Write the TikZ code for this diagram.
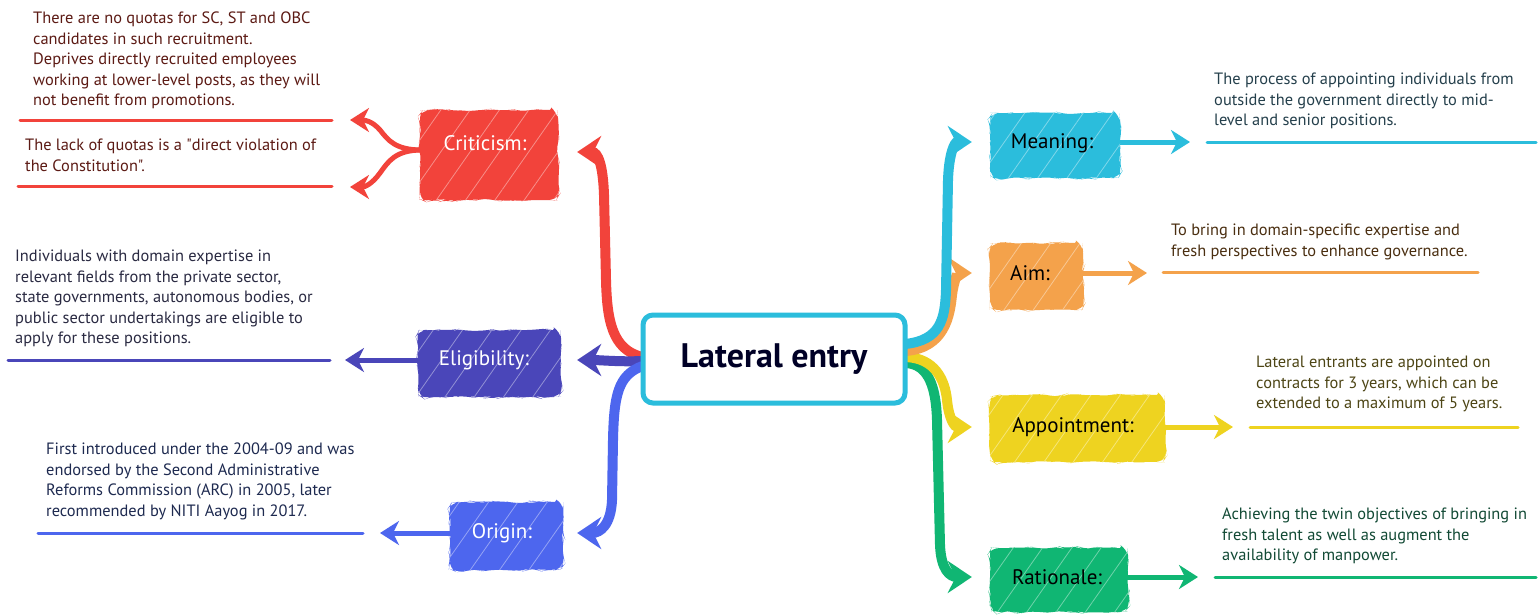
\documentclass[tikz,border=0pt]{standalone}
\usepackage{fontspec}
\setmainfont{PT Sans}[Ligatures=TeXOff]
\usetikzlibrary{arrows.meta,decorations.pathmorphing,patterns.meta,calc}
\definecolor{cRed}{HTML}{F2433B}
\definecolor{cInd}{HTML}{4A46B9}
\definecolor{cBlu}{HTML}{4D66EE}
\definecolor{cCya}{HTML}{2BBDDC}
\definecolor{cOra}{HTML}{F4A24B}
\definecolor{cYel}{HTML}{EED320}
\definecolor{cGrn}{HTML}{10B673}
\definecolor{tRed}{HTML}{5C1A14}
\definecolor{tInd}{HTML}{2A2A42}
\definecolor{tBlu}{HTML}{1E2A50}
\definecolor{tCya}{HTML}{25404C}
\definecolor{tOra}{HTML}{4A2E10}
\definecolor{tYel}{HTML}{4D4515}
\definecolor{tGrn}{HTML}{124A35}
\pgfdeclarelayer{bg}
\pgfsetlayers{bg,main}
\begin{document}
\begin{tikzpicture}[x=1pt,y=-1pt,
  catbox/.style={rectangle, rounded corners=8pt, inner sep=0pt, fill=#1,
    decorate, decoration={random steps,segment length=6pt,amplitude=1.2pt},
    postaction={pattern={Lines[angle=55,distance=24pt,line width=0.8pt]}, pattern color=white!40!#1}},
  catlabel/.style={inner sep=0pt, font=\fontsize{21}{24}\selectfont, text=#1},
  body/.style={anchor=north west, inner sep=0pt, align=left, font=\fontsize{16.4}{20.5}\selectfont, text=#1},
  bigarrow/.style={line width=10pt, #1, -{Stealth[length=24pt,width=32pt,inset=8pt]}},
  smallarrow/.style={line width=5pt, #1, -{Stealth[length=19pt,width=24pt,inset=6pt]}},
  uline/.style={line width=3pt, #1, line cap=round}
]
\pgfmathsetseed{7}
\useasboundingbox (0,0) rectangle (1538,614);

% central node
\node[draw=cCya, line width=5pt, rounded corners=10pt, fill=white,
      minimum width=262pt, minimum height=88pt, inner sep=0pt,
      font=\bfseries\fontsize{34}{38}\selectfont, text=black!85!blue] (le) at (774,359) {Lateral entry};

% category boxes
\node[catbox=cRed, minimum width=138pt, minimum height=90pt] (critbox) at (489,155) {};
\node[catlabel=white] (crit) at (485,143) {Criticism:};
\node[catbox=cInd, minimum width=143pt, minimum height=67pt] (eligbox) at (489.5,363.5) {};
\node[catlabel=white] (elig) at (484,360) {Eligibility:};
\node[catbox=cBlu, minimum width=113pt, minimum height=68pt] (origbox) at (506.5,536) {};
\node[catlabel=white] (orig) at (502,533) {Origin:};
\node[catbox=cCya, minimum width=130pt, minimum height=65pt] (meanbox) at (1055,145.5) {};
\node[catlabel=black] (mean) at (1052,143) {Meaning:};
\node[catbox=cOra, minimum width=93pt, minimum height=67pt] (aimbox) at (1036.5,276.5) {};
\node[catlabel=black] (aim) at (1030,273) {Aim:};
\node[catbox=cYel, minimum width=175pt, minimum height=67pt] (apptbox) at (1077.5,428.5) {};
\node[catlabel=black] (appt) at (1073,427) {Appointment:};
\node[catbox=cGrn, minimum width=138pt, minimum height=64pt] (ratbox) at (1059,580) {};
\node[catlabel=black] (rat) at (1057,577) {Rationale:};

% texts
\node[body=tRed] (critA) at (33,12) {There are no quotas for SC, ST and OBC\\candidates in such recruitment.\\Deprives directly recruited employees\\working at lower-level posts, as they will\\not benefit from promotions.};
\node[body=tRed] (critB) at (25,139) {The lack of quotas is a "direct violation of\\the Constitution".};
\node[body=tInd] (eligT) at (15,250) {Individuals with domain expertise in\\relevant fields from the private sector,\\state governments, autonomous bodies, or\\public sector undertakings are eligible to\\apply for these positions.};
\node[body=tBlu] (origT) at (46,443) {First introduced under the 2004-09 and was\\endorsed by the Second Administrative\\Reforms Commission (ARC) in 2005, later\\recommended by NITI Aayog in 2017.};
\node[body=tCya] (meanT) at (1214,73) {The process of appointing individuals from\\outside the government directly to mid-\\level and senior positions.};
\node[body=tOra] (aimT) at (1171,224) {To bring in domain-specific expertise and\\fresh perspectives to enhance governance.};
\node[body=tYel] (apptT) at (1256,356) {Lateral entrants are appointed on\\contracts for 3 years, which can be\\extended to a maximum of 5 years.};
\node[body=tGrn] (ratT) at (1222,508) {Achieving the twin objectives of bringing in\\fresh talent as well as augment the\\availability of manpower.};

% arrow end points
\coordinate (critTipA) at (350,120);
\coordinate (critTipB) at (350,187);
\coordinate (eligTip) at (345,360);
\coordinate (origTip) at (380,533);
\coordinate (meanTip) at (1190,142);
\coordinate (aimTip) at (1147,273);
\coordinate (apptTip) at (1233,427);
\coordinate (ratTip) at (1198,577);

\begin{pgfonlayer}{bg}
\fill[white] (0,0) rectangle (1538,614);
% main connectors
\draw[bigarrow=cRed] ($(le.west)+(2,-2)$) .. controls (612,350) and (607,320) .. (606,280)
   -- (604,195) .. controls (603,165) and (598,152) .. ($(critbox.east)+(19,-3)$);
\draw[bigarrow=cInd] ($(le.west)+(2,2)$) .. controls (620,362) and (600,360) .. ($(eligbox.east)+(16,-3.5)$);
\draw[bigarrow=cBlu] ($(le.west)+(2,7)$) .. controls (618,375) and (614,395) .. (613,440)
   -- (612,500) .. controls (611,525) and (600,533) .. ($(origbox.east)+(14,-3)$);
\draw[bigarrow=cGrn] ($(le.east)+(-2,4)$) .. controls (930,364) and (936,390) .. (937,420)
   -- (940,545) .. controls (941,570) and (950,577) .. ($(ratbox.west)+(-18,-3)$);
\draw[bigarrow=cYel] ($(le.east)+(-2,-2)$) .. controls (935,358) and (945,380) .. (947,400)
   .. controls (949,420) and (955,427) .. ($(apptbox.west)+(-18,-1.5)$);
\draw[bigarrow=cOra] ($(le.east)+(-2,-8)$) .. controls (945,348) and (950,315) .. (952,295)
   .. controls (954,280) and (958,273) .. ($(aimbox.west)+(-18,-3.5)$);
\draw[bigarrow=cCya] ($(le.east)+(-2,-15)$) .. controls (940,340) and (945,320) .. (946,290)
   -- (948,180) .. controls (949,152) and (955,142) .. ($(meanbox.west)+(-18,-3.5)$);

% small arrows
\draw[smallarrow=cRed] ($(critbox.west)+(2,-5)$) .. controls (395,150) and (388,140) .. (380,130)
   .. controls (372,121) and (365,120) .. (critTipA);
\draw[smallarrow=cRed] ($(critbox.west)+(2,-5)$) .. controls (395,150) and (388,162) .. (380,173)
   .. controls (372,184) and (365,187) .. (critTipB);
\draw[smallarrow=cInd] ($(eligbox.west)+(2,-3.5)$) -- (eligTip);
\draw[smallarrow=cBlu] ($(origbox.west)+(2,-3)$) -- (origTip);
\draw[smallarrow=cCya] ($(meanbox.east)+(-2,-3.5)$) -- (meanTip);
\draw[smallarrow=cOra] ($(aimbox.east)+(-2,-3.5)$) -- (aimTip);
\draw[smallarrow=cYel] ($(apptbox.east)+(-2,-1.5)$) -- (apptTip);
\draw[smallarrow=cGrn] ($(ratbox.east)+(-2,-3)$) -- (ratTip);
\end{pgfonlayer}

% underlines
\draw[uline=cRed] (20,120) -- (332,120);
\draw[uline=cRed] (18,186) -- (332,186);
\draw[uline=cInd] (8,360) -- (330,360);
\draw[uline=cBlu] (38,533) -- (363,533);
\draw[uline=cCya] (1207,142) -- (1536,142);
\draw[uline=cOra] (1163,272) -- (1478,272);
\draw[uline=cYel] (1250,427) -- (1518,427);
\draw[uline=cGrn] (1215,577) -- (1536,577);
\end{tikzpicture}
\end{document}
